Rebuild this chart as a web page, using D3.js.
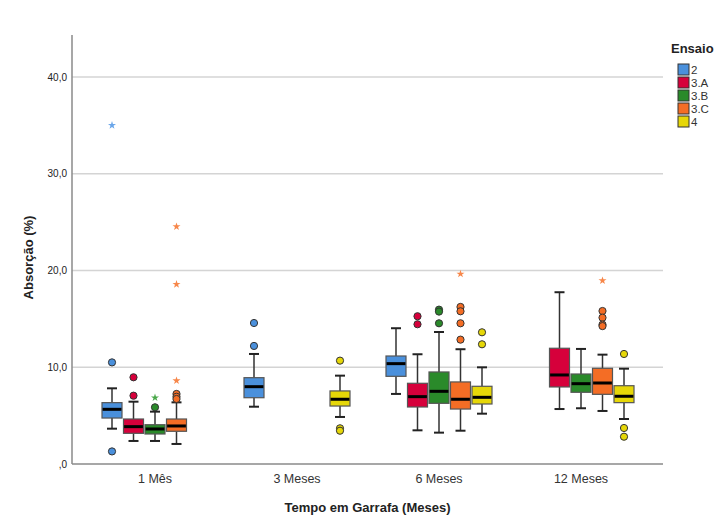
<!DOCTYPE html>
<html>
<head>
<meta charset="utf-8">
<script src="https://cdn.jsdelivr.net/npm/d3@7"></script>
<style>
  html, body { margin: 0; padding: 0; background: #fff; }
  svg { display: block; font-family: "Liberation Sans", Arial, sans-serif; }
</style>
</head>
<body>
<svg id="chart" width="720" height="515"></svg>
<script>
// Absorção (%) by bottle time, grouped by trial (Ensaio)
const categories = ["1 Mês", "3 Meses", "6 Meses", "12 Meses"];
const seriesNames = ["2", "3.A", "3.B", "3.C", "4"];
const seriesColors = ["#4a90dc", "#d6003b", "#2a8a2a", "#f46d25", "#e6d708"];
const starColors = ["#6aa6ea", "#e8607a", "#4aa84a", "#f7874a", "#e6d708"];
const yTicks = [0, 10, 20, 30, 40];

// Box statistics per category: [lower whisker, Q1, median, Q3, upper whisker]
const stats2  = [[3.65, 4.75, 5.65, 6.34, 7.82], [5.92, 6.85, 7.99, 8.92, 11.37], [7.24, 9.06, 10.37, 11.16, 14.03], null];
const stats3A = [[2.38, 3.17, 3.86, 4.65, 6.44], null, [3.48, 5.89, 6.96, 8.34, 11.34], [5.68, 7.96, 9.20, 11.96, 17.75]];
const stats3B = [[2.38, 3.10, 3.62, 4.06, 5.41], null, [3.24, 6.27, 7.51, 9.51, 13.64], [5.76, 7.41, 8.30, 9.30, 11.89]];
const stats3C = [[2.07, 3.38, 3.93, 4.65, 6.37], null, [3.44, 5.68, 6.69, 8.48, 11.86], [5.48, 7.20, 8.37, 9.89, 11.30]];
const stats4  = [null, [4.86, 5.99, 6.69, 7.55, 9.13], [5.20, 6.20, 6.89, 8.03, 9.99], [4.65, 6.34, 7.00, 8.09, 9.85]];

// Outliers (circles) per category
const out2  = [[10.5, 1.3], [14.57, 12.20], [], []];
const out3A = [[8.96, 7.06], [], [15.27, 14.44], []];
const out3B = [[5.86], [], [15.95, 15.75, 14.54], []];
const out3C = [[7.24, 6.95, 6.72], [], [16.23, 15.78, 14.54, 12.85], [15.81, 15.12, 14.40, 14.25]];
const out4  = [[], [10.68, 3.69, 3.44], [13.61, 12.37], [11.37, 3.72, 2.82]];

// Extreme values (stars) per category
const ext2  = [[35.0], [], [], []];
const ext3A = [[], [], [], []];
const ext3B = [[6.85], [], [], []];
const ext3C = [[24.53, 18.57, 8.61], [], [19.64], [18.95]];
const ext4  = [[], [], [], []];

const allStats = [stats2, stats3A, stats3B, stats3C, stats4];
const allOut = [out2, out3A, out3B, out3C, out4];
const allExt = [ext2, ext3A, ext3B, ext3C, ext4];

// Flatten into one record per drawn box
const boxes = [];
seriesNames.forEach((s, si) => {
  categories.forEach((c, ci) => {
    const st = allStats[si][ci];
    if (!st) return;
    boxes.push({
      series: s, si, category: c,
      lw: st[0], q1: st[1], med: st[2], q3: st[3], uw: st[4],
      outliers: allOut[si][ci], extremes: allExt[si][ci]
    });
  });
});

const svg = d3.select("#chart");
const plotL = 72, plotR = 663, plotT = 35, plotB = 464;

const y = d3.scaleLinear().domain([0, 44.33]).range([plotB, plotT]);
const x = d3.scaleBand().domain(categories).range([84, 652]).padding(0);
const xs = d3.scaleBand().domain(seriesNames).range([-53.75, 53.75]).padding(0);
const boxW = 20, capW = 10;

// Gridlines
svg.append("g").selectAll("line")
  .data(yTicks.filter(t => t > 0))
  .join("line")
  .attr("x1", plotL).attr("x2", plotR)
  .attr("y1", d => y(d)).attr("y2", d => y(d))
  .attr("stroke", "#d4d4d4").attr("stroke-width", 1.5);

// Y axis
const yAxis = d3.axisLeft(y).tickValues(yTicks)
  .tickFormat(d => d === 0 ? ",0" : d3.format(".1f")(d).replace(".", ","))
  .tickSize(0).tickPadding(5);
const gy = svg.append("g").attr("transform", `translate(${plotL},0)`).call(yAxis);
gy.select(".domain").remove();
gy.selectAll("text").attr("font-size", 10).attr("fill", "#222")
  .attr("font-family", "'Liberation Sans', Arial, sans-serif");

// X axis
const xAxis = d3.axisBottom(x).tickSize(0).tickPadding(10);
const gx = svg.append("g").attr("transform", `translate(0,${plotB})`).call(xAxis);
gx.select(".domain").remove();
gx.selectAll("text").attr("font-size", 12.5).attr("fill", "#333")
  .attr("font-family", "'Liberation Sans', Arial, sans-serif");

// Axis lines
svg.append("line").attr("x1", plotL).attr("x2", plotL).attr("y1", plotT).attr("y2", plotB)
  .attr("stroke", "#8a8a8a").attr("stroke-width", 1.5);
svg.append("line").attr("x1", plotL).attr("x2", plotR).attr("y1", plotB).attr("y2", plotB)
  .attr("stroke", "#8a8a8a").attr("stroke-width", 1.5);

// Axis titles
svg.append("text")
  .attr("transform", `translate(33,${(plotT + plotB) / 2 + 8}) rotate(-90)`)
  .attr("text-anchor", "middle").attr("font-size", 13).attr("font-weight", "bold").attr("fill", "#222")
  .text("Absorção (%)");
svg.append("text")
  .attr("x", (plotL + plotR) / 2).attr("y", 512)
  .attr("text-anchor", "middle").attr("font-size", 13).attr("font-weight", "bold").attr("fill", "#222")
  .text("Tempo em Garrafa (Meses)");

// Boxes
const cx = d => x(d.category) + x.bandwidth() / 2 + xs(d.series) + xs.bandwidth() / 2;
const g = svg.append("g").selectAll("g").data(boxes).join("g");

// whisker stems
g.append("line").attr("x1", cx).attr("x2", cx)
  .attr("y1", d => y(d.uw)).attr("y2", d => y(d.q3))
  .attr("stroke", "#333").attr("stroke-width", 1.5);
g.append("line").attr("x1", cx).attr("x2", cx)
  .attr("y1", d => y(d.q1)).attr("y2", d => y(d.lw))
  .attr("stroke", "#333").attr("stroke-width", 1.5);
// whisker caps
["uw", "lw"].forEach(k => {
  g.append("line")
    .attr("x1", d => cx(d) - capW / 2).attr("x2", d => cx(d) + capW / 2)
    .attr("y1", d => y(d[k])).attr("y2", d => y(d[k]))
    .attr("stroke", "#222").attr("stroke-width", 2);
});
// box body
g.append("rect")
  .attr("x", d => cx(d) - boxW / 2).attr("width", boxW)
  .attr("y", d => y(d.q3)).attr("height", d => y(d.q1) - y(d.q3))
  .attr("fill", d => seriesColors[d.si]).attr("stroke", "#555").attr("stroke-width", 1.2);
// median
g.append("line")
  .attr("x1", d => cx(d) - boxW / 2 + 0.6).attr("x2", d => cx(d) + boxW / 2 - 0.6)
  .attr("y1", d => y(d.med)).attr("y2", d => y(d.med))
  .attr("stroke", "#000").attr("stroke-width", 3);

// outliers
g.selectAll("circle").data(d => d.outliers.map(v => ({ v, d }))).join("circle")
  .attr("cx", o => cx(o.d)).attr("cy", o => y(o.v)).attr("r", 3.6)
  .attr("fill", o => seriesColors[o.d.si]).attr("stroke", "#333").attr("stroke-width", 1);

// extremes
const star = d3.symbol().type(d3.symbolStar).size(20);
g.selectAll("path.ext").data(d => d.extremes.map(v => ({ v, d }))).join("path")
  .attr("class", "ext")
  .attr("d", star)
  .attr("transform", o => `translate(${cx(o.d)},${y(o.v)})`)
  .attr("fill", o => starColors[o.d.si]);

// Legend
const lg = svg.append("g").attr("transform", "translate(671,0)");
lg.append("text").attr("x", 0).attr("y", 53).attr("font-size", 13).attr("font-weight", "bold")
  .attr("fill", "#222").text("Ensaio");
const items = lg.selectAll("g.item").data(seriesNames).join("g").attr("class", "item")
  .attr("transform", (d, i) => `translate(7,${64 + i * 13})`);
items.append("rect").attr("width", 11).attr("height", 11)
  .attr("fill", (d, i) => seriesColors[i]).attr("stroke", "#333").attr("stroke-width", 1);
items.append("text").attr("x", 13).attr("y", 10).attr("font-size", 11.5).attr("fill", "#333")
  .text(d => d);
</script>
</body>
</html>
